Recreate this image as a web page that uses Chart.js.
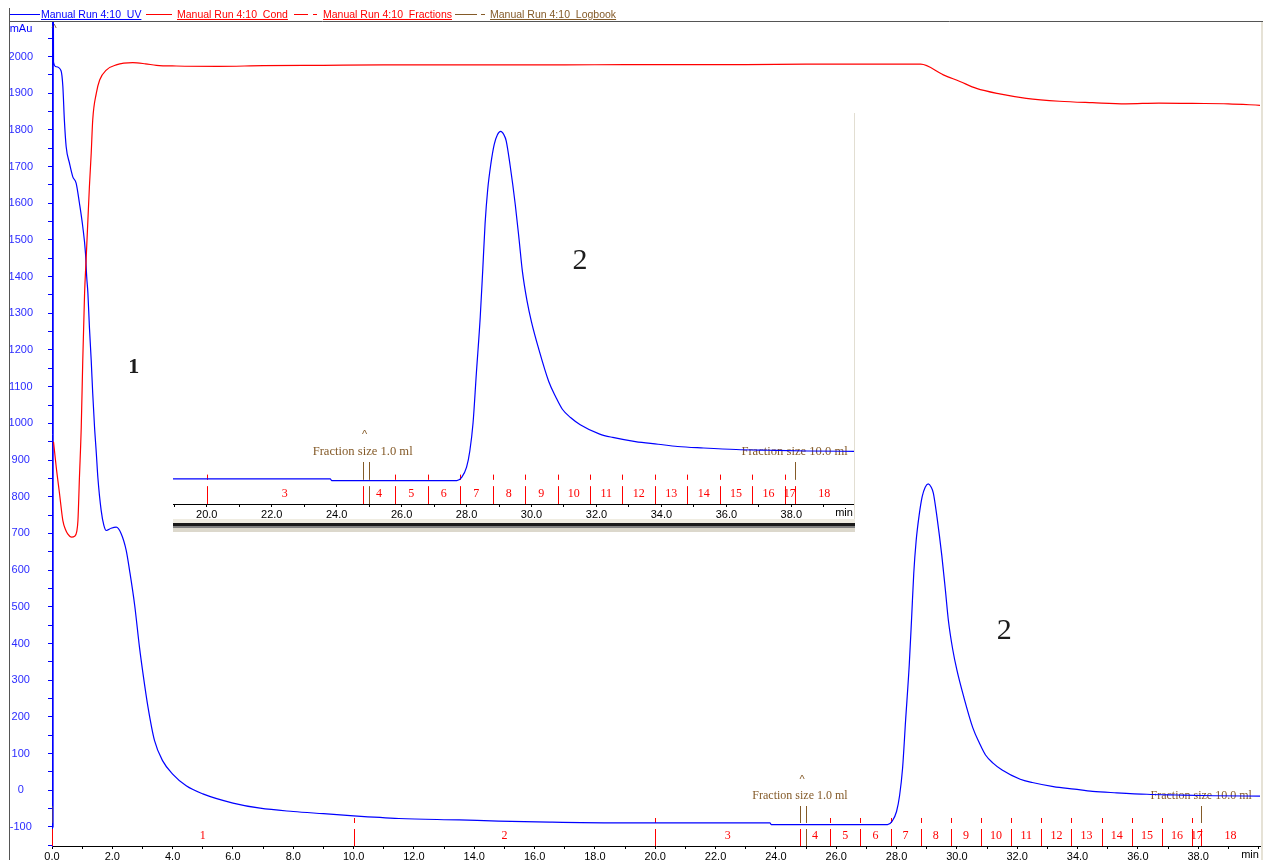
<!DOCTYPE html>
<html>
<head>
<meta charset="utf-8">
<script src="https://cdn.jsdelivr.net/npm/chart.js@4.4.0/dist/chart.umd.min.js"></script>
<style>
  html, body { margin: 0; padding: 0; background: #fff; }
  #wrap { position: relative; width: 1263px; height: 860px; overflow: hidden; }
  #main { position: absolute; left: 0; top: 0; }
  .lg-line { position: absolute; top: 14px; height: 0; border-top: 1px solid; }
  .lg-text { position: absolute; top: 8px; line-height: 13px; font: 10.5px "Liberation Sans", Arial, sans-serif; text-decoration: underline; white-space: nowrap; }
  #insetBox { position: absolute; left: 173px; top: 113px; width: 681px; height: 406px; background: #fff; border-right: 1px solid #e2ded2; }
  #insetBand { position: absolute; left: 173px; top: 519px; width: 682px; height: 13px;
    background: linear-gradient(to bottom, #efece1 0px, #efece1 4px, #1a1a1a 4px, #1a1a1a 7px, #808080 7px, #808080 9px, #dcd8cc 9px, #dcd8cc 13px); }
</style>
</head>
<body>
<div id="wrap">
  <canvas id="main" width="1263" height="860"></canvas>
  <div class="lg-line" style="left:10px;width:30px;border-color:#0000ff"></div>
  <div class="lg-text" style="left:41px;color:#0000ff">Manual Run 4:10_UV</div>
  <div class="lg-line" style="left:146px;width:26px;border-color:#ff0000"></div>
  <div class="lg-text" style="left:177px;color:#ff0000">Manual Run 4:10_Cond</div>
  <div class="lg-line" style="left:294px;width:14px;border-color:#ff0000"></div>
  <div class="lg-line" style="left:313px;width:4px;border-color:#ff0000"></div>
  <div class="lg-text" style="left:323px;color:#ff0000">Manual Run 4:10_Fractions</div>
  <div class="lg-line" style="left:455px;width:22px;border-color:#845a28"></div>
  <div class="lg-line" style="left:481px;width:4px;border-color:#845a28"></div>
  <div class="lg-text" style="left:490px;color:#845a28">Manual Run 4:10_Logbook</div>
  <div id="insetBox"><canvas id="inset" width="681" height="406"></canvas></div>
  <div id="insetBand"></div>
</div>
<script>
// UV trace (min, mAu)
const uvTime = [0, 0.035, 0.04, 0.05, 0.14, 0.3, 0.36, 0.41, 0.47, 0.58, 0.69, 0.8, 0.91, 1.02, 1.11, 1.15, 1.19, 1.24, 1.3, 1.35,
  1.41, 1.47, 1.52, 1.63, 1.72, 1.8, 1.96, 2.13, 2.29, 2.46, 2.57, 2.74, 2.9, 3.01, 3.18, 3.4, 3.67, 4.0, 4.45, 5.0,
  6.0, 6.9, 8.0, 9.0, 10.0, 11.5, 13.5, 14.8, 16.5, 18.7, 23.8, 23.85, 27.7, 27.85, 28.0, 28.1, 28.2, 28.3, 28.42, 28.5,
  28.57, 28.65, 28.75, 28.85, 28.95, 29.05, 29.15, 29.22, 29.34, 29.5, 29.62, 29.72, 29.86, 30.0, 30.22, 30.53, 30.75, 30.95, 31.2, 31.5,
  32.1, 32.5, 33.2, 33.9, 34.5, 35.3, 36.3, 37.3, 38.5, 40.05];
const uvValue = [-100, -100, 2300, 1985, 1972, 1961, 1918, 1827, 1754, 1709, 1672, 1655, 1600, 1536, 1464, 1400, 1355, 1263, 1172, 1082,
  990, 918, 853, 763, 722, 708, 714, 717, 700, 654, 600, 505, 390, 322, 228, 135, 80, 44, 12, -10,
  -35, -49, -58, -64, -70, -77, -81, -84, -87, -89, -89, -94, -94, -85, -58, -15, 60, 190, 340, 470,
  590, 680, 750, 800, 826, 835, 826, 810, 745, 640, 545, 462, 385, 328, 257, 170, 128, 96, 74, 55,
  30, 21, 10, 3, -3, -7, -11, -13, -15, -16];

// Conductivity trace, read on the mAu scale
const condTime = [0.05, 0.14, 0.25, 0.36, 0.45, 0.52, 0.65, 0.75, 0.82, 0.86, 0.91, 0.97, 1.02, 1.08, 1.13, 1.19, 1.24, 1.3, 1.35, 1.47,
  1.58, 1.8, 2.13, 2.68, 3.1, 3.46, 4.12, 5.5, 7, 9, 11, 13, 15, 17, 19, 21, 23, 25, 27, 28.8,
  29.55, 30.1, 30.65, 31.42, 32.3, 33.4, 34.5, 35.6, 36.7, 37.8, 39, 40.05];
const condValue = [950, 881, 808, 735, 710, 699, 690, 692, 705, 735, 853, 990, 1172, 1354, 1445, 1554, 1645, 1736, 1827, 1900,
  1936, 1963, 1977, 1983, 1980, 1976, 1974, 1973, 1975, 1976, 1977, 1977, 1977, 1977, 1978, 1978, 1978, 1979, 1979, 1979,
  1950, 1932, 1913, 1898, 1886, 1878, 1874, 1871, 1873, 1872, 1871, 1867];

// Fractions (start time, number)
const fracStart = [0, 10.0, 20.0, 24.8, 25.8, 26.8, 27.8, 28.8, 29.8, 30.8, 31.8, 32.8, 33.8, 34.8, 35.8, 36.8, 37.8, 38.1];
const fracLabel = ['1', '2', '3', '4', '5', '6', '7', '8', '9', '10', '11', '12', '13', '14', '15', '16', '17', '18'];

// Logbook
const logTime = [0, 24.8, 25.0, 38.1];
const logText = ['', 'Fraction size 1.0 ml', '', 'Fraction size 10.0 ml'];
const logCaret = [true, true, false, false];

// Tick labels
const yLabelValues = [-100, 0, 100, 200, 300, 400, 500, 600, 700, 800, 900, 1000, 1100, 1200, 1300, 1400, 1500, 1600, 1700, 1800, 1900, 2000];
const xLabelValues = [0, 2, 4, 6, 8, 10, 12, 14, 16, 18, 20, 22, 24, 26, 28, 30, 32, 34, 36, 38];

const BLUE = '#0000ff', RED = '#ff0000', BROWN = '#845a28';
const SERIF = '"Liberation Serif", "Times New Roman", serif';
const SANS = '"Liberation Sans", Arial, sans-serif';

Chart.defaults.font.family = SANS;
Chart.defaults.font.size = 11;

function points(xs, ys) {
    return xs.map((x, i) => ({ x: x, y: ys[i] }));
}

const marksPlugin = {
    id: 'marks',
    beforeDatasetsDraw(chart, args, opts) {
        const ctx = chart.ctx;
        const xs = chart.scales.x, ys = chart.scales.y;
        const a = chart.chartArea, b = a.bottom, k = opts.k;
        const inRange = t => t >= xs.min && t <= xs.max;
        const px = t => Math.round(xs.getPixelForValue(t)) + 0.5;
        const vline = (x, y0, y1) => { ctx.beginPath(); ctx.moveTo(x, y0); ctx.lineTo(x, y1); ctx.stroke(); };
        ctx.save();
        ctx.lineWidth = 1;
        ctx.textAlign = 'center';
        ctx.textBaseline = 'middle';

        // fraction marks
        fracStart.forEach((t, i) => {
            ctx.strokeStyle = RED;
            if (inRange(t)) {
                vline(px(t), b - 17 * k, b);
                if (!logTime.includes(t)) vline(px(t), b - 28 * k, b - 23 * k);
            }
            const end = i + 1 < fracStart.length ? fracStart[i + 1] : xs.max;
            const mid = (t + end) / 2;
            if (mid > xs.min && mid < xs.max) {
                ctx.fillStyle = RED;
                ctx.font = '12px ' + SERIF;
                ctx.fillText(fracLabel[i], xs.getPixelForValue(mid), b - 10 * k);
            }
        });

        // logbook marks
        logTime.forEach((t, i) => {
            if (!inRange(t)) return;
            ctx.strokeStyle = BROWN;
            vline(px(t), b - 40 * k, b - 23 * k);
            if (!fracStart.includes(t)) vline(px(t), b - 17 * k, b);
            ctx.fillStyle = BROWN;
            if (logText[i]) {
                ctx.font = (12 * k).toFixed(1) + 'px ' + SERIF;
                ctx.fillText(logText[i], xs.getPixelForValue(t), b - 50 * k);
            }
            if (logCaret[i]) {
                ctx.font = '11px ' + SANS;
                const cy = logText[i] ? b - 66 * k : a.top + 7;
                ctx.fillText('^', xs.getPixelForValue(t) + 2, cy);
            }
        });

        // peak labels
        (opts.labels || []).forEach(l => {
            ctx.fillStyle = '#1c1c1c';
            ctx.font = l.font;
            ctx.fillText(l.text, xs.getPixelForValue(l.x), ys.getPixelForValue(l.y));
        });

        // axis unit texts
        ctx.fillStyle = '#000';
        ctx.font = '11px ' + SANS;
        ctx.fillText('min', a.right - 10, b + 9);
        if (opts.frame) {
            ctx.fillStyle = BLUE;
            ctx.fillText('mAu', 21, 29);
            ctx.strokeStyle = '#555';
            ctx.beginPath();
            ctx.moveTo(9, 21.5); ctx.lineTo(1263, 21.5);
            ctx.moveTo(9.5, 8); ctx.lineTo(9.5, 860);
            ctx.stroke();
            ctx.strokeStyle = '#e6e2d6';
            ctx.lineWidth = 2;
            vline(1262, 22, 860);
        }
        ctx.restore();
    }
};

function xAxis(min, max, h) {
    return {
        type: 'linear', min: min, max: max,
        afterFit: s => { s.height = h; s.paddingLeft = 0; s.paddingRight = 0; },
        border: { color: '#000', width: 1 },
        grid: { drawOnChartArea: false, tickLength: 3, color: '#000' },
        ticks: {
            stepSize: 1, includeBounds: false, autoSkip: false, maxRotation: 0, padding: 1,
            color: '#000',
            callback: v => xLabelValues.includes(v) ? v.toFixed(1) : ''
        }
    };
}

new Chart(document.getElementById('main'), {
    type: 'line',
    data: {
        datasets: [
            { label: 'Manual Run 4:10_Cond', data: points(condTime, condValue), borderColor: RED, borderWidth: 1.2,
              pointRadius: 0, cubicInterpolationMode: 'monotone' },
            { label: 'Manual Run 4:10_UV', data: points(uvTime, uvValue), borderColor: BLUE, borderWidth: 1.2,
              pointRadius: 0, cubicInterpolationMode: 'monotone' }
        ]
    },
    options: {
        responsive: false, animation: false, devicePixelRatio: 1,
        layout: { padding: { top: 22, right: 3, left: 0, bottom: 0 } },
        plugins: {
            legend: { display: false }, tooltip: { enabled: false },
            marks: {
                k: 1, frame: true,
                labels: [
                    { text: '1', x: 2.71, y: 1153, font: 'bold 22px ' + SERIF },
                    { text: '2', x: 31.57, y: 433, font: '30px ' + SERIF }
                ]
            }
        },
        scales: {
            x: xAxis(0, 40.05, 14),
            y: {
                type: 'linear', min: -152, max: 2094,
                afterFit: s => { s.width = 52; s.paddingTop = 0; s.paddingBottom = 0; },
                border: { color: BLUE, width: 1 },
                grid: { drawOnChartArea: false, tickLength: 4, color: BLUE },
                ticks: {
                    stepSize: 50, includeBounds: false, autoSkip: false, padding: 15, crossAlign: 'center',
                    color: '#2b2bff',
                    callback: v => yLabelValues.includes(v) ? String(v) : ''
                }
            }
        }
    },
    plugins: [marksPlugin]
});

new Chart(document.getElementById('inset'), {
    type: 'line',
    data: {
        datasets: [
            { label: 'Manual Run 4:10_UV', data: points(uvTime, uvValue), borderColor: BLUE, borderWidth: 1.2,
              pointRadius: 0, cubicInterpolationMode: 'monotone' }
        ]
    },
    options: {
        responsive: false, animation: false, devicePixelRatio: 1,
        layout: { padding: 0 },
        plugins: {
            legend: { display: false }, tooltip: { enabled: false },
            marks: {
                k: 1.05, frame: false,
                labels: [ { text: '2', x: 31.49, y: 490, font: '30px ' + SERIF } ]
            }
        },
        scales: {
            x: xAxis(18.96, 39.93, 15),
            y: { type: 'linear', min: -156, max: 884, display: false }
        }
    },
    plugins: [marksPlugin]
});
</script>
</body>
</html>
